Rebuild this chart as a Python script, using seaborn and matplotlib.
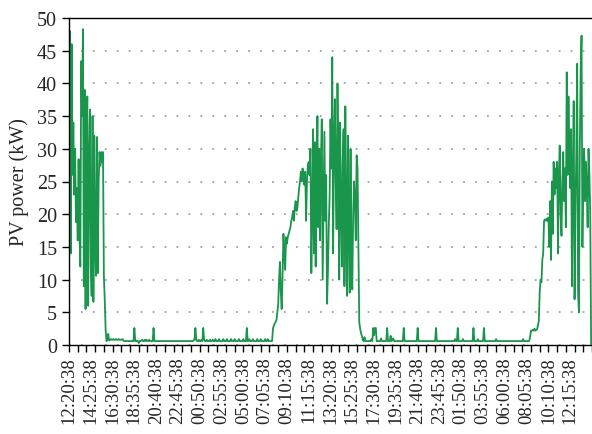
import numpy as np
import pandas as pd
import matplotlib
matplotlib.use('Agg')
import matplotlib.pyplot as plt
import seaborn as sns

# PV power readings (kW), 5-minute samples
day1 = [20, 48, 14, 46, 26, 34, 23, 30, 18.8, 24, 16, 28.4, 17, 12, 43.4, 35, 48.3, 9, 39, 5.5,
        30, 38, 6, 28, 36, 12, 7.5, 35, 6.6, 32, 15, 10.6, 31.8, 11, 25, 29.5, 27.4, 29.5, 28, 29.5,
        10.6, 7, 2.4, 0.6, 0.8, 1.7]

night1 = [0.7, 0.8, 0.9, 0.8, 0.8, 0.9, 0.8, 0.8, 0.9, 0.8, 0.8, 0.9, 0.8, 0.8, 0.8, 0.9, 0.8, 0.6, 0.6, 0.6,
          0.6, 0.6, 0.6, 0.6, 0.6, 0.6, 0.6, 0.6, 0.6, 2.6, 0.6, 0.7, 0.6, 0.6, 0.3, 0.6, 0.6, 0.7, 0.8, 0.6,
          0.6, 0.8, 0.6, 0.8, 0.6, 0.6, 0.8, 0.6, 0.6, 0.6, 0.6, 2.6, 0.6, 0.6, 0.6, 0.6, 0.6, 0.6, 0.6, 0.6,
          0.6, 0.6, 0.6, 0.6, 0.6, 0.6, 0.6, 0.6, 0.6, 0.6, 0.6, 0.6, 0.6, 0.6, 0.6, 0.6, 0.6, 0.6, 0.6, 0.6,
          0.6, 0.6, 0.6, 0.6, 0.6, 0.6, 0.6, 0.6, 0.6, 0.6, 0.6, 0.6, 0.6, 0.6, 0.6, 0.6, 0.6, 0.7, 0.8, 2.6,
          0.8, 0.6, 0.6, 0.8, 0.6, 0.6, 0.8, 0.6, 2.6, 0.8, 0.6, 0.6, 0.8, 0.6, 0.6, 0.6, 0.8, 0.6, 0.6, 0.8,
          0.6, 0.6, 0.9, 0.6, 0.6, 0.6, 0.9, 0.6, 0.6, 0.6, 0.6, 0.9, 0.6, 0.6, 0.6, 0.9, 0.6, 0.6, 0.6, 0.6,
          0.9, 0.6, 0.6, 0.6, 0.9, 0.6, 0.6, 0.6, 0.6, 0.9, 0.6, 0.6, 0.6, 0.6, 0.9, 0.6, 0.6, 0.6, 2.6, 0.6,
          0.6, 0.9, 0.6, 0.6, 0.6, 0.9, 0.6, 0.6, 0.6, 0.6, 0.9, 0.6, 0.6, 0.6, 0.9, 0.6, 0.6, 0.6, 0.6, 0.9,
          0.6, 0.6, 0.9, 0.6, 0.6, 0.6, 0.6, 0.6]

day2 = [2.5, 3.0, 3.3, 3.5, 3.8, 5.0, 6.2, 10.0, 12.7, 8.0, 5.5, 10.5, 17.0, 14.0, 11.5, 16.5, 15.5, 16.5,
        17.0, 17.5, 18.0, 19.0, 19.5, 20.5, 19.0, 21.0, 22.0, 20.5, 21.0, 22.5, 24.0, 25.0, 26.5, 25.0,
        27.0, 25.5, 24.5, 26.5, 19.0, 25.0, 27.5, 28.0, 26.0,
        30, 11, 20, 33, 14, 31, 12, 27, 35, 18, 30, 16, 28, 34.5, 10, 22, 32.6, 19, 26, 6.3,
        11, 18, 22.8, 34.5, 27, 44, 14, 30, 37.6, 25, 17.7, 40, 28, 10, 34, 22, 12, 28, 33, 9,
        36.5, 20, 7.5, 32, 18, 8, 30, 13, 8.5, 20, 25, 22, 16, 29, 27, 15, 3.5, 2.5, 1.8, 1.4,
        0.8, 0.6]

night2 = [1.2, 0.6, 0.6, 0.6, 0.6, 0.6, 0.6, 0.6, 0.9, 0.6, 2.6, 1.5, 2.6, 2.6, 0.6, 0.6, 0.6, 0.6, 0.6, 1.0,
          0.6, 0.6, 0.6, 0.6, 0.6, 0.6, 2.6, 0.6, 0.6, 0.6, 1.4, 0.6, 0.9, 1.0, 0.6, 0.6, 0.6, 0.6, 0.6, 0.6,
          0.6, 0.6, 0.6, 0.6, 0.6, 2.6, 0.6, 0.6, 0.6, 0.6, 0.6, 0.6, 0.6, 0.6, 0.6, 0.6, 0.6, 0.6, 0.6, 0.6,
          0.6, 2.6, 0.6, 0.6, 0.6, 0.6, 0.6, 0.6, 0.6, 0.6, 0.6, 0.6, 0.6, 0.6, 0.6, 0.6, 0.6, 0.6, 0.6, 0.6,
          0.6, 0.6, 2.6, 0.6, 0.6, 0.6, 0.6, 0.6, 0.6, 0.6, 0.6, 0.6, 0.6, 0.6, 0.6, 0.6, 0.6, 0.6, 0.6, 0.6,
          0.6, 0.6, 0.6, 0.6, 0.9, 0.6, 0.6, 2.6, 0.6, 0.6, 0.6, 0.6, 0.6, 0.9, 0.6, 0.6, 0.6, 0.6, 0.6, 0.6,
          0.6, 0.6, 0.6, 0.6, 0.6, 2.6, 0.6, 0.6, 0.6, 0.6, 0.9, 0.6, 0.6, 0.6, 0.6, 0.6, 0.6, 2.6, 0.6, 0.6,
          0.6, 0.6, 0.6, 0.6, 0.6, 0.6, 0.6, 0.6, 0.6, 0.6, 0.6, 0.9, 0.6, 0.6, 0.6, 0.6, 0.6, 0.6, 0.6, 0.6,
          0.6, 0.6, 0.6, 0.6, 0.6, 0.6, 0.6, 0.6, 0.6, 0.6, 0.6, 0.6, 0.6, 0.6, 0.6, 0.6, 0.6, 0.6, 0.6, 0.6,
          0.6, 0.6, 0.9, 0.6, 0.6, 0.6, 0.6, 0.6, 0.6, 0.6]

day3 = [1.3, 2.2, 2.2, 2.3, 2.2, 2.5, 2.2, 2.3, 2.4, 3.0,
        3.7, 8.1, 10.0, 9.6, 13.0, 14.0, 19.0, 19.2, 19.0, 19.3,
        19.0, 19.5, 15.0, 22.0, 13.0, 25.0, 17.0, 28.0, 23.0, 27.0,
        24.0, 28.0, 14.0, 26.0, 30.5, 20.0, 16.7, 25.0, 29.5, 22.0,
        27.0, 18.0, 41.7, 26.0, 38.0, 30.0, 24.0, 33.0, 9.0, 25.0,
        37.3, 7.0, 20.0, 29.5, 43.0, 8.0, 5.0, 30.0, 42.0, 47.3,
        15.0, 26.0, 30.0, 22.0, 28.0, 24.0, 18.0, 30.0, 26.0, 20.0,
        0.1]

power = day1 + night1 + day2 + night2 + day3
times = pd.date_range('2000-01-01 12:20:38', periods=len(power), freq='5min').strftime('%H:%M:%S')
df = pd.DataFrame({'step': np.arange(len(power)), 'power': power})

sns.set_style('ticks')
plt.rcParams['font.family'] = ['Liberation Serif', 'DejaVu Serif']
plt.rcParams['lines.scale_dashes'] = False

fig = plt.figure(figsize=(5.92, 4.35), dpi=100)
ax = fig.add_axes([69 / 592, 1 - 346 / 435, 523 / 592, 327 / 435])

sns.lineplot(data=df, x='step', y='power', ax=ax, color='#1a954c', linewidth=1.3)

ax.set_xlim(0, len(power))
ax.set_ylim(0, 50)
ax.set_yticks(np.arange(0, 51, 5))
ax.yaxis.grid(True, color='#a0a0a0', linestyle=(0, (1.3, 7.3)), linewidth=1.3)
ax.set_axisbelow(True)

# tick marks every 10 samples, labels every 25 samples
ax.xaxis.remove_overlapping_locs = False
ax.set_xticks(np.arange(0, len(power) + 1, 10))
ax.set_xticklabels([])
lab_pos = np.arange(0, len(power), 25)
ax.set_xticks(lab_pos, [times[i] for i in lab_pos], minor=True)
ax.tick_params(axis='x', which='minor', length=0, rotation=90, labelsize=13.5, pad=8)
ax.tick_params(axis='x', which='major', length=5, width=1, color='black')
ax.tick_params(axis='y', length=5, width=1, color='black', labelsize=14.5)

ax.set_xlabel('')
ax.set_ylabel('PV power (kW)', fontsize=14.5, labelpad=6)

for s in ['left', 'bottom', 'top']:
    ax.spines[s].set_color('black')
    ax.spines[s].set_linewidth(1.0)
ax.spines['right'].set_visible(False)

fig.savefig('out.png', dpi=100)
